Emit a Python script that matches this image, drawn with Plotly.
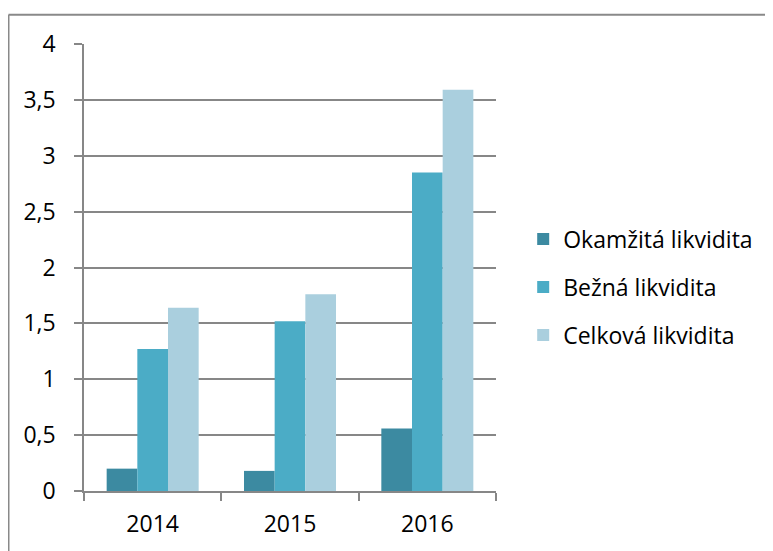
import plotly.graph_objects as go

years = ["2014", "2015", "2016"]
okamzita = [0.20, 0.18, 0.56]
bezna = [1.27, 1.52, 2.85]
celkova = [1.64, 1.76, 3.59]
series_names = ["Okamžitá likvidita", "Bežná likvidita", "Celková likvidita"]
colors = ["#3C8AA1", "#4BACC6", "#AACFDE"]
y_ticks = [0, 0.5, 1, 1.5, 2, 2.5, 3, 3.5, 4]
y_tick_labels = ["0", "0,5", "1", "1,5", "2", "2,5", "3", "3,5", "4"]

# page body has an 8px margin; figure coordinates are offset by it
W, H = 765, 543
L, R, T, B = 76, 488, 36, 486

fig = go.Figure()
for i, (name, vals) in enumerate(zip(series_names, [okamzita, bezna, celkova])):
    fig.add_trace(go.Bar(x=years, y=vals, name=name, marker_color=colors[i],
                         marker_line_width=0, legendgroup=f"g{i}"))

FONT = "Open Sans"
FS = 23
fig.update_layout(
    width=W, height=H,
    margin=dict(l=L, r=W - R, t=T, b=H - B, pad=0),
    plot_bgcolor="white", paper_bgcolor="white",
    barmode="group", bargap=0.33, bargroupgap=0,
    font=dict(family=FONT, size=FS, color="#000000"),
    legend=dict(x=1.066, y=0.456, xanchor="left", yanchor="middle",
                font=dict(size=FS, family=FONT), tracegroupgap=15,
                itemwidth=30, bgcolor="rgba(0,0,0,0)"),
    showlegend=True,
)
fig.update_yaxes(range=[0, 4], tickvals=y_ticks, ticktext=y_tick_labels,
                 showgrid=True, gridcolor="#878787", gridwidth=1.5,
                 showline=True, linecolor="#878787", linewidth=1.5,
                 ticks="outside", ticklen=8, tickcolor="#878787", tickwidth=1.5,
                 ticklabelstandoff=14, zeroline=False,
                 tickfont=dict(size=FS, family=FONT))
fig.update_xaxes(showline=True, linecolor="#878787", linewidth=1.5,
                 ticks="outside", ticklen=8, tickcolor="#878787", tickwidth=1.5,
                 tickson="boundaries", ticklabelstandoff=12,
                 tickfont=dict(size=FS, family=FONT))

pw, ph = R - L, B - T
border = dict(color="#898989", width=2)
# top border line of the chart frame
fig.add_shape(type="line", xref="paper", yref="paper",
              x0=(0.5 - L) / pw, x1=(W + 20 - L) / pw,
              y0=(B - 6.5) / ph, y1=(B - 6.5) / ph, line=border, layer="below")
# left border line of the chart frame
fig.add_shape(type="line", xref="paper", yref="paper",
              x0=(0.5 - L) / pw, x1=(0.5 - L) / pw,
              y0=(B - 6.5) / ph, y1=(B - H - 20) / ph, line=border, layer="below")

fig.write_html("out.html")
